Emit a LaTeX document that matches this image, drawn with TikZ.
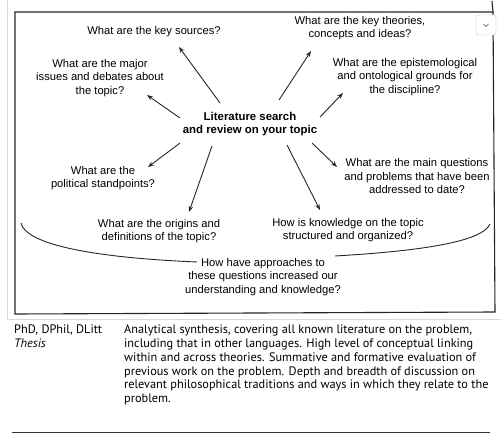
\documentclass[tikz,border=0pt]{standalone}
\usepackage{fontspec}
\setmainfont{Liberation Sans}
\newfontfamily\bodyfont{PT Sans}
\usetikzlibrary{arrows.meta}
\tikzset{
  q/.style={align=center, font=\fontsize{11.2}{13.6}\selectfont, inner sep=0pt, text=black},
  ctr/.style={q, font=\fontsize{11.4}{13.8}\selectfont\bfseries},
  arr/.style={line width=0.9pt, -{Stealth[length=6pt,width=4.5pt]}, black!85},
  frame/.style={line width=1.1pt, black!85},
  brace/.style={line width=0.9pt, black!85},
  faint/.style={line width=0.6pt, black!15},
  body/.style={align=left, anchor=north west, inner sep=0pt, font=\bodyfont\fontsize{12.3}{13.7}\selectfont, text=black}
}
\begin{document}
\begin{tikzpicture}[x=1pt,y=-1pt]
\useasboundingbox (0,0) rectangle (501,444);
% faint outer screenshot frame
\draw[faint] (7,0) -- (7,319) -- (501,319);
% main box
\draw[frame] (15,12) -- (15,314) -- (495,312) -- (493,12) -- cycle;
\draw[frame] (493,12) -- (492,1);
% chevron button
\node[draw=black!25, fill=white, rounded corners=2.5pt, minimum width=20pt, minimum height=20pt, inner sep=0pt] (btn) at (486,25) {};
\draw[line width=0.6pt, black!70] (483.5,24) -- (486,26.5) -- (488.5,24);

% centre
\node[ctr] (c) at (250,124) {Literature search\\and review on your topic};

% questions
\node[q] (src) at (154,32) {What are the key sources?};
\node[q] (thr) at (360,28) {What are the key theories,\\concepts and ideas?};
\node[q] (iss) at (100,78) {What are the major\\issues and debates about\\the topic?};
\node[q] (epi) at (405,77) {What are the epistemological\\and ontological grounds for\\the discipline?};
\node[q] (pol) at (103,178) {What are the\\political standpoints?};
\node[q] (ori) at (159,231) {What are the origins and\\definitions of the topic?};
\node[q] (mqu) at (417,176) {What are the main questions\\and problems that have been\\addressed to date?};
\node[q] (str) at (348,230) {How is knowledge on the topic\\structured and organized?};
\node[q] (how) at (263,277) {How have approaches to\\these questions increased our\\understanding and knowledge?};

% arrow end points
\coordinate (s1) at (220,103); \coordinate (e1) at (179,47);
\coordinate (s2) at (180,118); \coordinate (e2) at (147,95);
\coordinate (s3) at (279,100); \coordinate (e3) at (311,51);
\coordinate (s4) at (320,117); \coordinate (e4) at (343,93);
\coordinate (s5) at (180,143); \coordinate (e5) at (148,167);
\coordinate (s6) at (212,146); \coordinate (e6) at (189,212);
\coordinate (s7) at (312,143); \coordinate (e7) at (337,167);
\coordinate (s8) at (287,145); \coordinate (e8) at (320,210);
\draw[arr] (s1) -- (e1);
\draw[arr] (s2) -- (e2);
\draw[arr] (s3) -- (e3);
\draw[arr] (s4) -- (e4);
\draw[arr] (s5) -- (e5);
\draw[arr] (s6) -- (e6);
\draw[arr] (s7) -- (e7);
\draw[arr] (s8) -- (e8);

% brace
\coordinate (bl) at (21,223); \coordinate (bm1) at (197,262);
\coordinate (bm2) at (335,256); \coordinate (br) at (490,224);
\draw[brace] (bl) .. controls (25,242) and (80,257) .. (bm1);
\draw[brace] (bm2) .. controls (420,251) and (482,242) .. (br);

% bottom table
\node[body] (deg) at (14,325) {PhD, DPhil, DLitt\\\textit{Thesis}};
\node[body] (desc) at (124,325) {Analytical synthesis, covering all known literature on the problem,\\
including that in other languages. High level of conceptual linking\\
within and across theories. Summative and formative evaluation of\\
previous work on the problem. Depth and breadth of discussion on\\
relevant philosophical traditions and ways in which they relate to the\\
problem.};
\coordinate (r1) at (12,432); \coordinate (r2) at (490,432);
\draw[line width=1pt, black!80] (r1) -- (r2);
\end{tikzpicture}
\end{document}
